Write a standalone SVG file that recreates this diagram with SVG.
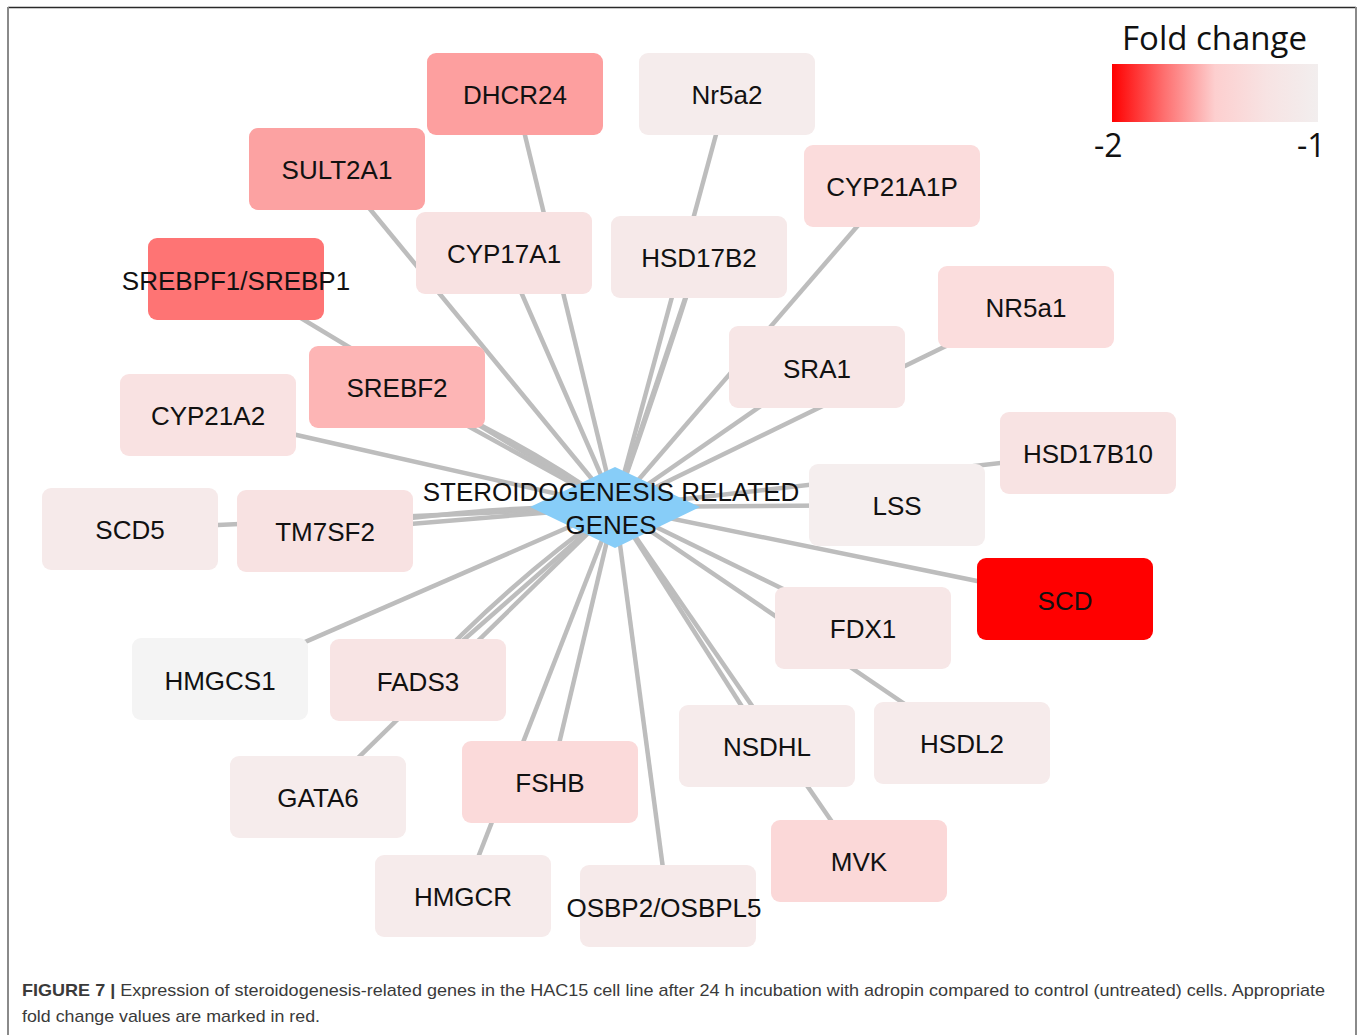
<svg xmlns="http://www.w3.org/2000/svg" width="1362" height="1035" viewBox="0 0 1362 1035">
<defs>
<linearGradient id="fc" x1="0" y1="0" x2="1" y2="0">
<stop offset="0" stop-color="#ff0000"/>
<stop offset="0.25" stop-color="#fe6e6e"/>
<stop offset="0.5" stop-color="#fdcfcf"/>
<stop offset="0.75" stop-color="#f7e3e3"/>
<stop offset="1" stop-color="#f2eeee"/>
</linearGradient>
</defs>
<style>
.e{stroke:#bdbdbd;stroke-width:4.5;fill:none;stroke-linecap:butt}
.n{rx:9;ry:9}
.t{font-family:"Liberation Sans",Arial,sans-serif;font-size:26px;fill:#111;text-anchor:middle}
.cap{font-family:"Liberation Sans",Arial,sans-serif;font-size:17px;fill:#3a3a3a}
.leg{font-family:"Open Sans","Noto Sans",sans-serif;fill:#111}
</style>
<rect width="1362" height="1035" fill="#fff"/>
<g id="frame">
<line x1="8" y1="7.5" x2="1356" y2="7.5" stroke="#2a2a2a" stroke-width="1.5"/>
<line x1="8" y1="7" x2="8" y2="1035" stroke="#8a8a8a" stroke-width="2"/>
<line x1="1356" y1="7" x2="1356" y2="1035" stroke="#8a8a8a" stroke-width="2"/>
</g>
<g id="connectors">
<line class="e" x1="515" y1="94" x2="615" y2="507"/>
<line class="e" x1="727" y1="94" x2="615" y2="507"/>
<line class="e" x1="337" y1="169" x2="615" y2="507"/>
<line class="e" x1="892" y1="186" x2="615" y2="507"/>
<line class="e" x1="504" y1="253" x2="615" y2="507"/>
<line class="e" x1="699" y1="257" x2="615" y2="507"/>
<path class="e" d="M699 257 Q660 380 615 507"/>
<line class="e" x1="236" y1="279" x2="615" y2="507"/>
<line class="e" x1="1026" y1="307" x2="615" y2="507"/>
<line class="e" x1="817" y1="367" x2="615" y2="507"/>
<line class="e" x1="397" y1="387" x2="615" y2="507"/>
<path class="e" d="M397 387 Q515 435 615 507"/>
<line class="e" x1="208" y1="415" x2="615" y2="507"/>
<line class="e" x1="1088" y1="453" x2="615" y2="507"/>
<line class="e" x1="897" y1="505" x2="615" y2="507"/>
<line class="e" x1="130" y1="529" x2="615" y2="507"/>
<line class="e" x1="325" y1="531" x2="615" y2="507"/>
<path class="e" d="M325 531 Q470 505 615 507"/>
<line class="e" x1="1065" y1="599" x2="615" y2="507"/>
<line class="e" x1="863" y1="628" x2="615" y2="507"/>
<line class="e" x1="220" y1="679" x2="615" y2="507"/>
<line class="e" x1="418" y1="680" x2="615" y2="507"/>
<path class="e" d="M418 680 Q505 585 615 507"/>
<line class="e" x1="962" y1="743" x2="615" y2="507"/>
<line class="e" x1="767" y1="746" x2="615" y2="507"/>
<line class="e" x1="318" y1="797" x2="615" y2="507"/>
<line class="e" x1="550" y1="782" x2="615" y2="507"/>
<line class="e" x1="859" y1="861" x2="615" y2="507"/>
<line class="e" x1="463" y1="896" x2="615" y2="507"/>
<line class="e" x1="668" y1="906" x2="615" y2="507"/>
</g>
<g id="DHCR24"><rect class="n" x="427" y="53" width="176" height="82" fill="#fd9f9f"/><text class="t" x="515" y="104">DHCR24</text></g>
<g id="Nr5a2"><rect class="n" x="639" y="53" width="176" height="82" fill="#f5ecec"/><text class="t" x="727" y="104">Nr5a2</text></g>
<g id="SULT2A1"><rect class="n" x="249" y="128" width="176" height="82" fill="#fca2a2"/><text class="t" x="337" y="179">SULT2A1</text></g>
<g id="CYP21A1P"><rect class="n" x="804" y="145" width="176" height="82" fill="#fbdcdc"/><text class="t" x="892" y="196">CYP21A1P</text></g>
<g id="CYP17A1"><rect class="n" x="416" y="212" width="176" height="82" fill="#f8e2e2"/><text class="t" x="504" y="263">CYP17A1</text></g>
<g id="HSD17B2"><rect class="n" x="611" y="216" width="176" height="82" fill="#f6e9e9"/><text class="t" x="699" y="267">HSD17B2</text></g>
<g id="SREBPF1"><rect class="n" x="148" y="238" width="176" height="82" fill="#fe7474"/><text class="t" x="236" y="290">SREBPF1/SREBP1</text></g>
<g id="NR5a1"><rect class="n" x="938" y="266" width="176" height="82" fill="#fbdddd"/><text class="t" x="1026" y="317">NR5a1</text></g>
<g id="SRA1"><rect class="n" x="729" y="326" width="176" height="82" fill="#f7e6e6"/><text class="t" x="817" y="378">SRA1</text></g>
<g id="SREBF2"><rect class="n" x="309" y="346" width="176" height="82" fill="#fdb5b5"/><text class="t" x="397" y="397">SREBF2</text></g>
<g id="CYP21A2"><rect class="n" x="120" y="374" width="176" height="82" fill="#f9e2e2"/><text class="t" x="208" y="425">CYP21A2</text></g>
<g id="HSD17B10"><rect class="n" x="1000" y="412" width="176" height="82" fill="#f8e3e3"/><text class="t" x="1088" y="463">HSD17B10</text></g>
<g id="LSS"><rect class="n" x="809" y="464" width="176" height="82" fill="#f5eeee"/><text class="t" x="897" y="515">LSS</text></g>
<g id="SCD5"><rect class="n" x="42" y="488" width="176" height="82" fill="#f6eaea"/><text class="t" x="130" y="539">SCD5</text></g>
<g id="TM7SF2"><rect class="n" x="237" y="490" width="176" height="82" fill="#f8e2e2"/><text class="t" x="325" y="541">TM7SF2</text></g>
<g id="SCD"><rect class="n" x="977" y="558" width="176" height="82" fill="#ff0000"/><text class="t" x="1065" y="610">SCD</text></g>
<g id="FDX1"><rect class="n" x="775" y="587" width="176" height="82" fill="#f7e7e7"/><text class="t" x="863" y="638">FDX1</text></g>
<g id="HMGCS1"><rect class="n" x="132" y="638" width="176" height="82" fill="#f4f4f4"/><text class="t" x="220" y="690">HMGCS1</text></g>
<g id="FADS3"><rect class="n" x="330" y="639" width="176" height="82" fill="#f8e4e4"/><text class="t" x="418" y="691">FADS3</text></g>
<g id="HSDL2"><rect class="n" x="874" y="702" width="176" height="82" fill="#f6ebeb"/><text class="t" x="962" y="753">HSDL2</text></g>
<g id="NSDHL"><rect class="n" x="679" y="705" width="176" height="82" fill="#f6ebeb"/><text class="t" x="767" y="756">NSDHL</text></g>
<g id="GATA6"><rect class="n" x="230" y="756" width="176" height="82" fill="#f6ecec"/><text class="t" x="318" y="807">GATA6</text></g>
<g id="FSHB"><rect class="n" x="462" y="741" width="176" height="82" fill="#fbdada"/><text class="t" x="550" y="792">FSHB</text></g>
<g id="MVK"><rect class="n" x="771" y="820" width="176" height="82" fill="#fbd8d8"/><text class="t" x="859" y="871">MVK</text></g>
<g id="HMGCR"><rect class="n" x="375" y="855" width="176" height="82" fill="#f6ebeb"/><text class="t" x="463" y="906">HMGCR</text></g>
<g id="OSBP2"><rect class="n" x="580" y="865" width="176" height="82" fill="#f6eaea"/><text class="t" x="664" y="917">OSBP2/OSBPL5</text></g>
<g id="center"><polygon points="615,467 700,507 615,548 530,507" fill="#87cdf8"/><text class="t" x="611" y="501">STEROIDOGENESIS RELATED</text><text class="t" x="611" y="534">GENES</text></g>
<g id="legend">
<text class="leg" x="1122" y="50" font-size="33">Fold change</text>
<rect x="1112" y="64" width="206" height="58" fill="url(#fc)"/>
<text class="leg" x="1094" y="157" font-size="32">-2</text>
<text class="leg" x="1297" y="157" font-size="32">-1</text>
</g>
<g id="caption">
<text class="cap" x="22" y="996" textLength="1303" lengthAdjust="spacingAndGlyphs"><tspan font-weight="bold">FIGURE 7 |</tspan> Expression of steroidogenesis-related genes in the HAC15 cell line after 24 h incubation with adropin compared to control (untreated) cells. Appropriate</text>
<text class="cap" x="22" y="1022" textLength="298" lengthAdjust="spacingAndGlyphs">fold change values are marked in red.</text>
</g>
</svg>
